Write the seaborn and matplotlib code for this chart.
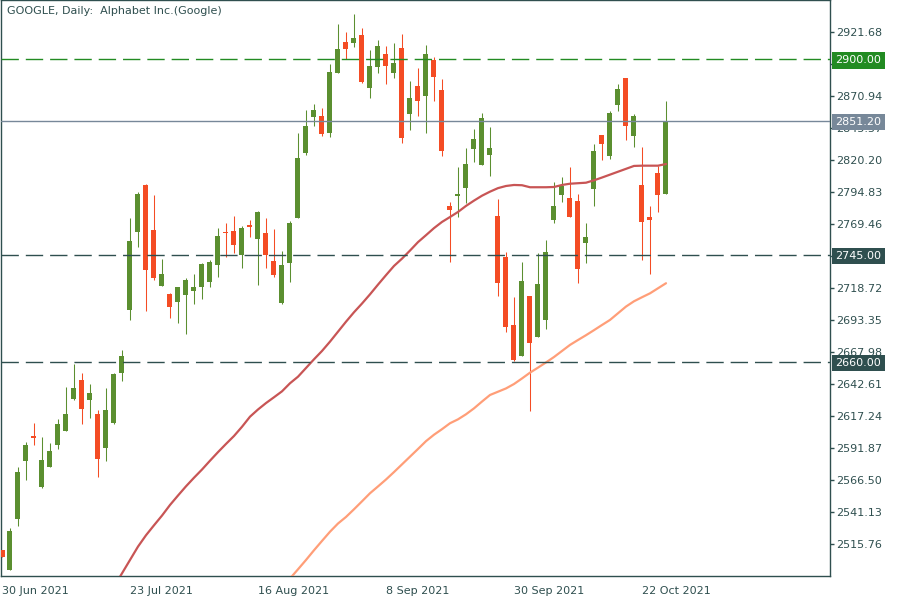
import matplotlib
matplotlib.use("Agg")
import matplotlib.pyplot as plt
import matplotlib.transforms as mtransforms
import numpy as np
import pandas as pd
import seaborn as sns

# ---------------- data ----------------
title = "GOOGLE, Daily:  Alphabet Inc.(Google)"

opens = [2511.0, 2495.2, 2535.8, 2581.8, 2601.4, 2561.2, 2577.0, 2594.5, 2605.6, 2630.7,
         2645.8, 2629.9, 2618.8, 2592.1, 2611.9, 2651.6, 2701.3, 2763.1, 2800.4, 2764.7,
         2720.5, 2714.0, 2707.9, 2713.4, 2716.6, 2719.8, 2723.7, 2737.2, 2763.1, 2763.9,
         2745.1, 2768.7, 2757.8, 2762.3, 2740.1, 2707.1, 2738.8, 2774.5, 2825.5, 2854.5,
         2855.1, 2841.9, 2889.4, 2913.8, 2913.0, 2919.3, 2877.3, 2893.9, 2904.2, 2889.2,
         2909.0, 2856.9, 2878.9, 2871.2, 2899.5, 2875.7, 2783.7, 2791.9, 2798.2, 2829.2,
         2816.5, 2824.4, 2775.8, 2743.3, 2689.4, 2665.0, 2712.4, 2680.1, 2693.6, 2772.9,
         2792.7, 2790.1, 2787.7, 2754.6, 2797.4, 2840.0, 2823.6, 2864.0, 2885.2, 2839.5,
         2800.4, 2775.0, 2809.9, 2793.5]
highs = [2511.0, 2528.7, 2577.0, 2596.6, 2611.7, 2600.6, 2595.9, 2614.9, 2640.2, 2658.5,
         2651.3, 2642.6, 2622.0, 2639.4, 2651.3, 2669.6, 2774.2, 2794.8, 2801.0, 2792.5,
         2741.7, 2714.8, 2719.5, 2726.9, 2729.8, 2738.6, 2740.9, 2766.3, 2770.3, 2775.8,
         2767.9, 2772.6, 2779.5, 2774.2, 2765.5, 2748.1, 2771.9, 2841.6, 2859.9, 2864.6,
         2861.7, 2896.3, 2928.0, 2921.7, 2936.0, 2924.9, 2907.4, 2915.3, 2910.6, 2913.0,
         2920.1, 2882.8, 2893.1, 2911.4, 2901.9, 2884.4, 2786.9, 2814.7, 2829.7, 2844.8,
         2857.5, 2846.4, 2789.3, 2747.3, 2711.6, 2739.3, 2712.4, 2746.5, 2756.8, 2802.8,
         2806.7, 2814.7, 2793.2, 2770.3, 2832.9, 2840.0, 2859.1, 2880.5, 2885.5, 2856.7,
         2830.5, 2784.0, 2815.5, 2867.0]
lows = [2505.7, 2495.2, 2530.3, 2566.5, 2594.3, 2560.4, 2577.0, 2591.3, 2605.6, 2629.9,
        2611.1, 2615.9, 2569.1, 2581.8, 2611.1, 2645.2, 2693.4, 2751.5, 2700.8, 2725.1,
        2720.5, 2695.2, 2691.2, 2682.5, 2706.3, 2710.3, 2719.8, 2727.7, 2743.6, 2746.7,
        2734.8, 2759.4, 2721.4, 2734.8, 2727.7, 2706.3, 2723.7, 2774.0, 2824.2, 2847.2,
        2839.5, 2838.7, 2889.4, 2900.0, 2909.8, 2881.2, 2869.4, 2889.2, 2880.5, 2885.2,
        2833.7, 2844.2, 2855.3, 2841.9, 2867.2, 2823.6, 2739.6, 2775.3, 2786.4, 2818.9,
        2816.5, 2807.8, 2712.6, 2684.1, 2661.1, 2665.0, 2621.4, 2680.1, 2686.4, 2770.5,
        2787.1, 2775.3, 2722.9, 2738.8, 2784.0, 2820.4, 2821.2, 2859.3, 2836.3, 2830.7,
        2741.2, 2730.1, 2779.2, 2793.5]
closes = [2505.7, 2526.1, 2572.9, 2594.3, 2600.0, 2582.4, 2589.5, 2610.9, 2618.8, 2639.4,
          2623.0, 2635.5, 2583.4, 2622.0, 2650.5, 2664.8, 2756.0, 2793.2, 2733.0, 2726.9,
          2729.8, 2703.9, 2719.5, 2725.1, 2719.5, 2737.8, 2739.3, 2759.9, 2762.6, 2753.0,
          2766.3, 2767.3, 2779.0, 2745.1, 2729.3, 2736.9, 2770.3, 2821.8, 2847.2, 2859.9,
          2841.1, 2890.0, 2908.2, 2908.2, 2916.9, 2882.0, 2894.7, 2910.6, 2894.7, 2897.1,
          2837.6, 2869.4, 2867.2, 2904.2, 2886.2, 2827.6, 2780.8, 2793.0, 2817.0, 2836.9,
          2853.5, 2829.9, 2722.9, 2688.0, 2661.9, 2724.3, 2675.4, 2722.1, 2747.3, 2783.7,
          2799.8, 2775.3, 2734.0, 2759.1, 2827.3, 2833.1, 2857.5, 2876.5, 2847.4, 2855.1,
          2771.3, 2772.9, 2792.7, 2851.2]

date_ticks = [0, 16, 32, 48, 64, 80]
date_labels = ["30 Jun 2021", "23 Jul 2021", "16 Aug 2021",
               "8 Sep 2021", "30 Sep 2021", "22 Oct 2021"]

ma_red_start = 14
ma_red = [2481.9, 2492.5, 2503.1, 2513.7, 2522.7, 2530.6, 2538.3, 2546.7, 2554.2, 2561.5,
          2568.3, 2574.8, 2581.8, 2588.6, 2595.1, 2601.4, 2608.7, 2616.7, 2622.4, 2627.5,
          2632.1, 2636.8, 2643.2, 2648.4, 2655.3, 2662.2, 2668.8, 2676.2, 2684.1, 2692.0,
          2699.5, 2706.4, 2713.7, 2721.4, 2728.9, 2736.2, 2742.0, 2748.4, 2755.1, 2760.6,
          2766.2, 2771.1, 2775.0, 2779.0, 2783.8, 2788.0, 2791.9, 2795.1, 2797.9, 2799.6,
          2800.4, 2800.2, 2798.6, 2798.6, 2798.6, 2798.8, 2800.4, 2801.4, 2801.8, 2802.2,
          2804.1, 2806.3, 2808.6, 2810.9, 2813.2, 2815.5, 2815.7, 2815.7, 2815.7, 2817.0]

ma_salmon_start = 36
ma_salmon = [2488.4, 2495.7, 2503.1, 2510.8, 2518.2, 2525.5, 2532.0, 2537.2, 2543.3, 2549.6,
             2556.0, 2561.4, 2566.9, 2572.8, 2578.9, 2585.0, 2591.1, 2597.3, 2602.4, 2606.8,
             2611.5, 2614.6, 2618.6, 2623.3, 2628.7, 2633.9, 2636.5, 2639.1, 2642.6, 2647.0,
             2651.6, 2655.6, 2659.7, 2664.0, 2668.8, 2673.6, 2677.5, 2681.3, 2685.3, 2689.4,
             2693.4, 2698.7, 2704.0, 2708.2, 2711.4, 2714.5, 2718.5, 2722.5]

price_ticks = [2515.76, 2541.13, 2566.50, 2591.87, 2617.24, 2642.61, 2667.98, 2693.35,
               2718.72, 2744.09, 2769.46, 2794.83, 2820.20, 2845.57, 2870.94, 2896.31, 2921.68]

level_values = [2900.00, 2851.20, 2745.00, 2660.00]
level_labels = ["2900.00", "2851.20", "2745.00", "2660.00"]

# ---------------- style ----------------
sns.set_style("white")
plt.rcParams['font.family'] = ['DejaVu Sans']

AXC = "#2F4F4F"
BULL = "#5B8F30"
BEAR = "#F44C24"
level_colors = ["#228B22", "#778899", AXC, AXC]
level_styles = ["dashed", "solid", "dashed", "dashed"]

fig = plt.figure(figsize=(9, 6), dpi=100)
ax = fig.add_axes([1 / 900, 24 / 600, 829 / 900, 576 / 600])
ax.set_facecolor("white")

df = pd.DataFrame({"o": opens, "h": highs, "l": lows, "c": closes})
df["i"] = np.arange(len(df))
df["up"] = df["c"] >= df["o"]
df["col"] = np.where(df["up"], BULL, BEAR)
df["bot"] = df[["o", "c"]].min(axis=1)
df["hgt"] = (df["c"] - df["o"]).abs().clip(lower=0.9)

# wicks
ax.vlines(df["i"], df["l"], df["h"], colors=df["col"], linewidth=0.75, zorder=2)
# bodies
ax.bar(df["i"], df["hgt"], bottom=df["bot"], width=0.625, color=df["col"],
       linewidth=0, zorder=3)

# moving averages
red_df = pd.DataFrame({"i": np.arange(ma_red_start, ma_red_start + len(ma_red)), "v": ma_red})
sal_df = pd.DataFrame({"i": np.arange(ma_salmon_start, ma_salmon_start + len(ma_salmon)), "v": ma_salmon})
sns.lineplot(data=red_df, x="i", y="v", ax=ax, color="#C85555", linewidth=1.6, zorder=4)
sns.lineplot(data=sal_df, x="i", y="v", ax=ax, color="#FF9E78", linewidth=1.6, zorder=4)

# horizontal levels
for v, c, s in zip(level_values, level_colors, level_styles):
    if s == "dashed":
        ax.axhline(v, color=c, linewidth=1.0, dashes=(12.5, 5), zorder=5)
    else:
        ax.axhline(v, color=c, linewidth=1.0, zorder=5)

ax.set_xlim(-0.125, 103.5)
ax.set_ylim(2490.39, 2947.05)

# axes look
for sp in ax.spines.values():
    sp.set_color(AXC)
    sp.set_linewidth(1.0)
    sp.set_visible(True)

ax.yaxis.tick_right()
ax.set_yticks(price_ticks)
ax.set_yticklabels([f"{p:.2f}" for p in price_ticks])
ax.tick_params(axis="y", which="major", direction="out", length=3, width=1,
               color=AXC, labelcolor=AXC, labelsize=8, pad=1.5, left=False, right=True)
ax.set_xticks(date_ticks)
ax.set_xticklabels(date_labels, ha="left")
ax.tick_params(axis="x", which="major", direction="out", length=5, width=1,
               color=AXC, labelcolor=AXC, labelsize=8, pad=2)
ax.set_xlabel("")
ax.set_ylabel("")
ax.grid(False)

# level label boxes on the price scale
trans = mtransforms.blended_transform_factory(ax.transAxes, ax.transData)
for v, lab, c in zip(level_values, level_labels, level_colors):
    ax.text(1.0 + 5.5 / 829, v, lab, transform=trans, ha="left", va="center_baseline",
            fontsize=8, color="white", clip_on=False, zorder=20,
            bbox=dict(boxstyle="square,pad=0.3", fc=c, ec="none"))

# title
fig.text(7 / 900, 1 - 11 / 600, title, ha="left", va="center", fontsize=8, color=AXC)

fig.savefig("out.png", dpi=100, facecolor="white")
